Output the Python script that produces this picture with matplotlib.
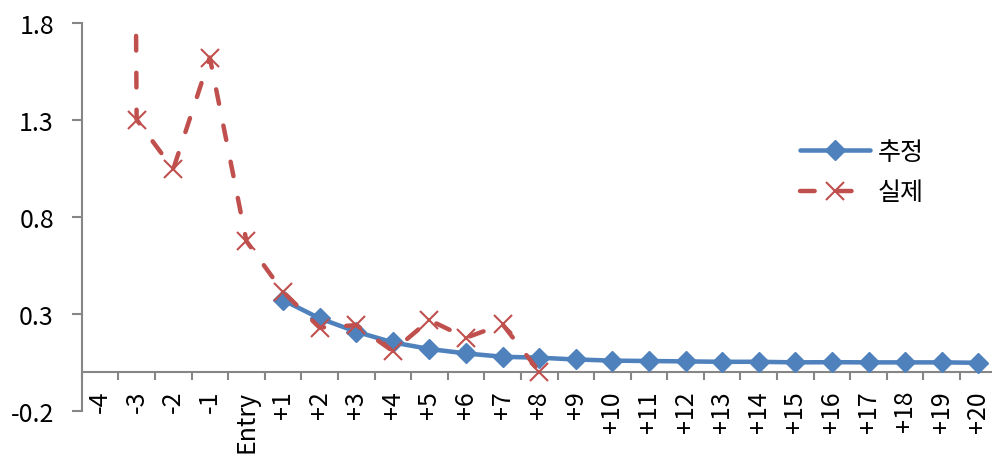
import numpy as np
import matplotlib
matplotlib.use("Agg")
import matplotlib.pyplot as plt
from matplotlib.ticker import FixedLocator, FixedFormatter

plt.rcParams['font.family'] = ['Noto Sans CJK KR', 'DejaVu Sans']
plt.rcParams['axes.unicode_minus'] = False

# categories around the entry point
cats = ["-4", "-3", "-2", "-1", "Entry"] + [f"+{i}" for i in range(1, 21)]

# estimated series (starts at +1)
est = [None] * 5 + [0.370, 0.276, 0.207, 0.152, 0.118, 0.095, 0.078, 0.073, 0.064, 0.058,
                    0.056, 0.054, 0.052, 0.052, 0.049, 0.050, 0.049, 0.049, 0.049, 0.047]
# actual series (ends at +8), -4 runs far off the top
act = [30.0, 1.30, 1.045, 1.62, 0.674, 0.413, 0.228, 0.241, 0.107, 0.267, 0.176, 0.245, 0.001] + [None] * 12

yticks = [-0.2, 0.3, 0.8, 1.3, 1.8]
ylabels = ["-0.2", "0.3", "0.8", "1.3", "1.8"]

blue = "#4F81BD"
red = "#C0504D"
grey = "#868686"

x = np.arange(len(cats)) + 0.5
est_a = np.array([np.nan if v is None else v for v in est])
act_a = np.array([np.nan if v is None else v for v in act])

fig = plt.figure(figsize=(9.92, 4.56), dpi=100)
ax = fig.add_axes([0.0824, 0.0972, 0.9223, 0.8508])

ln_est, = ax.plot(x, est_a, color=blue, lw=3.25, marker="D", ms=10, mec=blue, mfc=blue,
                  solid_capstyle="round", label="추정", zorder=3)
ln_act, = ax.plot(x, act_a, color=red, lw=3.2, marker="x", ms=13, mew=1.5, mec=red,
                  dash_capstyle="round", label="실제", zorder=4)
ln_act.set_dashes((3.3, 5.0))

ax.set_xlim(0, len(cats))
ax.set_ylim(-0.2, 1.8)

for s in ["top", "right"]:
    ax.spines[s].set_visible(False)
ax.spines["bottom"].set_position(("data", 0))
for s in ["left", "bottom"]:
    ax.spines[s].set_color(grey)
    ax.spines[s].set_linewidth(1.5)

ax.yaxis.set_major_locator(FixedLocator(yticks))
ax.yaxis.set_major_formatter(FixedFormatter(ylabels))
ax.tick_params(axis="y", direction="out", length=7, width=1.5, color=grey,
               labelsize=18, pad=13)

# boundary ticks at category edges, labels centred on categories
ax.xaxis.set_major_locator(FixedLocator(np.arange(len(cats) + 1)))
ax.xaxis.set_major_formatter(FixedFormatter([""] * (len(cats) + 1)))
ax.xaxis.set_minor_locator(FixedLocator(x))
ax.xaxis.set_minor_formatter(FixedFormatter(cats))
ax.tick_params(axis="x", which="major", direction="out", length=6, width=1.5, color=grey)
ax.tick_params(axis="x", which="minor", length=0, labelsize=18, pad=13, labelrotation=90)
for lbl in ax.get_xticklabels(minor=True):
    lbl.set_verticalalignment("top")

leg = ax.legend(handles=[ln_est, ln_act], loc="center left",
                bbox_to_anchor=(800 / 992, 1 - 173 / 456), bbox_transform=fig.transFigure,
                frameon=False, fontsize=18, handlelength=2.8, handletextpad=0.3,
                borderpad=0, borderaxespad=0, labelspacing=0.6)

fig.savefig("out.png", dpi=100)
